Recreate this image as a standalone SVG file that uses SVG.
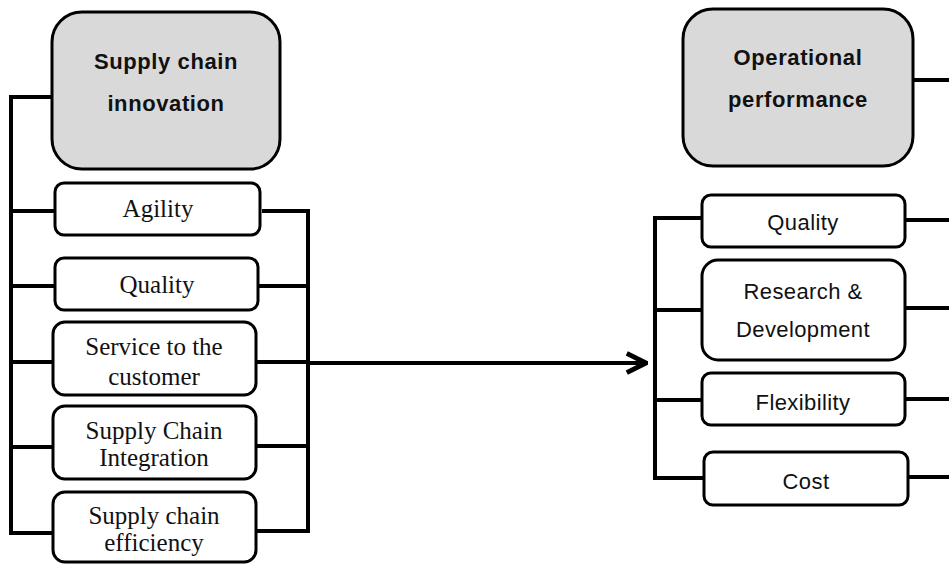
<svg xmlns="http://www.w3.org/2000/svg" width="949" height="564" viewBox="0 0 949 564">
<style>
.hdr{fill:#d9d9d9;stroke:#000;stroke-width:3}
.box{fill:#fff;stroke:#000;stroke-width:3}
.ht{font-family:"Liberation Sans",Arial,sans-serif;font-weight:bold;font-size:22px;letter-spacing:0.6px;fill:#111;text-anchor:middle}
.st{font-family:"Liberation Serif","Times New Roman",serif;font-size:25px;fill:#111;text-anchor:middle}
.rt{font-family:"Liberation Sans",Arial,sans-serif;font-size:22px;letter-spacing:0.4px;fill:#111;text-anchor:middle}
.ln{fill:none;stroke:#000;stroke-width:4}
</style>
<defs>
<marker id="ah" viewBox="0 0 10 10" refX="9" refY="5" markerWidth="6" markerHeight="6" markerUnits="strokeWidth" orient="auto">
<path d="M1,1 L9,5 L1,9" fill="none" stroke="#000" stroke-width="2"/>
</marker>
</defs>
<rect width="949" height="564" fill="#fff"/>
<g id="connectors">
<polyline class="ln" points="52,97 11,97 11,533 55,533"/>
<line class="ln" x1="11" y1="211" x2="55" y2="211"/>
<line class="ln" x1="11" y1="286" x2="55" y2="286"/>
<line class="ln" x1="11" y1="362" x2="53" y2="362"/>
<line class="ln" x1="11" y1="447" x2="53" y2="447"/>
<polyline class="ln" points="262,211 308,211 308,531 257,531"/>
<line class="ln" x1="259" y1="286" x2="308" y2="286"/>
<line class="ln" x1="257" y1="362" x2="308" y2="362"/>
<line class="ln" x1="257" y1="446" x2="308" y2="446"/>
<line class="ln" x1="308" y1="363" x2="646" y2="363" marker-end="url(#ah)"/>
<polyline class="ln" points="702,218 655,218 655,478 703,478"/>
<line class="ln" x1="655" y1="310" x2="702" y2="310"/>
<line class="ln" x1="655" y1="400" x2="702" y2="400"/>
<line class="ln" x1="913" y1="80" x2="949" y2="80"/>
<line class="ln" x1="905" y1="220" x2="949" y2="220"/>
<line class="ln" x1="905" y1="308" x2="949" y2="308"/>
<line class="ln" x1="905" y1="399" x2="949" y2="399"/>
<line class="ln" x1="908" y1="477" x2="949" y2="477"/>
</g>
<g id="sci">
<rect class="hdr" x="52" y="12" width="228" height="157" rx="30"/>
<text class="ht" x="166" y="69">Supply chain</text>
<text class="ht" x="166" y="111">innovation</text>
</g>
<g id="agility">
<rect class="box" x="55" y="183" width="205" height="52" rx="9"/>
<text class="st" x="158" y="217">Agility</text>
</g>
<g id="quality-l">
<rect class="box" x="55" y="258" width="203" height="52" rx="9"/>
<text class="st" x="157" y="293">Quality</text>
</g>
<g id="service">
<rect class="box" x="53" y="322" width="203" height="73" rx="12"/>
<text class="st" x="154" y="355">Service to the</text>
<text class="st" x="154" y="385">customer</text>
</g>
<g id="integration">
<rect class="box" x="53" y="406" width="203" height="73" rx="12"/>
<text class="st" x="154" y="439">Supply Chain</text>
<text class="st" x="154" y="466">Integration</text>
</g>
<g id="efficiency">
<rect class="box" x="53" y="492" width="203" height="70" rx="12"/>
<text class="st" x="154" y="524">Supply chain</text>
<text class="st" x="154" y="551">efficiency</text>
</g>
<g id="op">
<rect class="hdr" x="683" y="9" width="230" height="157" rx="30"/>
<text class="ht" x="798" y="65">Operational</text>
<text class="ht" x="798" y="107">performance</text>
</g>
<g id="quality-r">
<rect class="box" x="702" y="195" width="203" height="52" rx="9"/>
<text class="rt" x="803" y="230">Quality</text>
</g>
<g id="rd">
<rect class="box" x="702" y="260" width="203" height="100" rx="16"/>
<text class="rt" x="803" y="299">Research &amp;</text>
<text class="rt" x="803" y="337">Development</text>
</g>
<g id="flex">
<rect class="box" x="702" y="373" width="203" height="52" rx="9"/>
<text class="rt" x="803" y="410">Flexibility</text>
</g>
<g id="cost">
<rect class="box" x="704" y="452" width="204" height="53" rx="9"/>
<text class="rt" x="806" y="489">Cost</text>
</g>
</svg>
